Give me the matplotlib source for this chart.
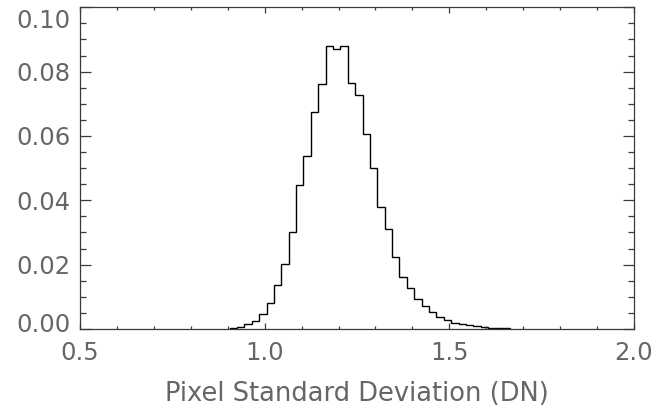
import matplotlib
matplotlib.use("Agg")
import matplotlib.pyplot as plt
from matplotlib.ticker import MultipleLocator, FixedLocator
from matplotlib.transforms import ScaledTranslation
import numpy as np

# Histogram data (bin width 0.02)
bin_start = 0.905
bin_width = 0.02
frequencies = [
    0.0003, 0.0007, 0.0014, 0.0025, 0.0047, 0.0082, 0.0138, 0.0203,
    0.0300, 0.0448, 0.0538, 0.0676, 0.0761, 0.0881, 0.0870, 0.0881,
    0.0764, 0.0727, 0.0605, 0.0500, 0.0378, 0.0310, 0.0225, 0.0163,
    0.0126, 0.0092, 0.0072, 0.0053, 0.0038, 0.0027, 0.0020, 0.0015,
    0.0011, 0.0008, 0.0006, 0.0004, 0.0003, 0.0003,
]
x_ticks = [0.5, 1.0, 1.5, 2.0]
x_tick_labels = ["0.5", "1.0", "1.5", "2.0"]
y_ticks = [0.00, 0.02, 0.04, 0.06, 0.08, 0.10]
y_tick_labels = ["0.00", "0.02", "0.04", "0.06", "0.08", "0.10"]
x_label = "Pixel Standard Deviation (DN)"

edges = bin_start + bin_width * np.arange(len(frequencies) + 1)

W, H = 655, 412
fig = plt.figure(figsize=(W / 100, H / 100), dpi=100)
ax = fig.add_axes([80 / W, (H - 329) / H, (634 - 80) / W, (329 - 7.3) / H])

ax.stairs(frequencies, edges, baseline=0, color="black", linewidth=1.0)

ax.set_xlim(0.5, 2.0)
ax.set_ylim(0.0, 0.10)

text_color = "#666666"
spine_color = "#3a3a3a"
fs = 17.5

ax.xaxis.set_major_locator(FixedLocator(x_ticks))
ax.set_xticklabels(x_tick_labels)
ax.xaxis.set_minor_locator(MultipleLocator(0.1))
ax.yaxis.set_major_locator(FixedLocator(y_ticks))
ax.set_yticklabels(y_tick_labels)
ax.yaxis.set_minor_locator(MultipleLocator(0.005))

ax.tick_params(axis="both", which="both", direction="in", top=True, right=True,
               color=spine_color, width=0.9, labelcolor=text_color, labelsize=fs)
ax.tick_params(axis="x", which="major", length=6.4 * 0.72, pad=9)
ax.tick_params(axis="x", which="minor", length=3.3 * 0.72)
ax.tick_params(axis="y", which="major", length=11 * 0.72, pad=7)
ax.tick_params(axis="y", which="minor", length=5.7 * 0.72)

ylabs = ax.get_yticklabels()
ylabs[0].set_transform(ylabs[0].get_transform() + ScaledTranslation(0, 7 / 100, fig.dpi_scale_trans))
ylabs[-1].set_transform(ylabs[-1].get_transform() + ScaledTranslation(0, -11 / 100, fig.dpi_scale_trans))

for s in ax.spines.values():
    s.set_color(spine_color)
    s.set_linewidth(0.9)

ax.set_xlabel(x_label, fontsize=18.5, color=text_color, labelpad=11)

fig.savefig("out.png", dpi=100)
